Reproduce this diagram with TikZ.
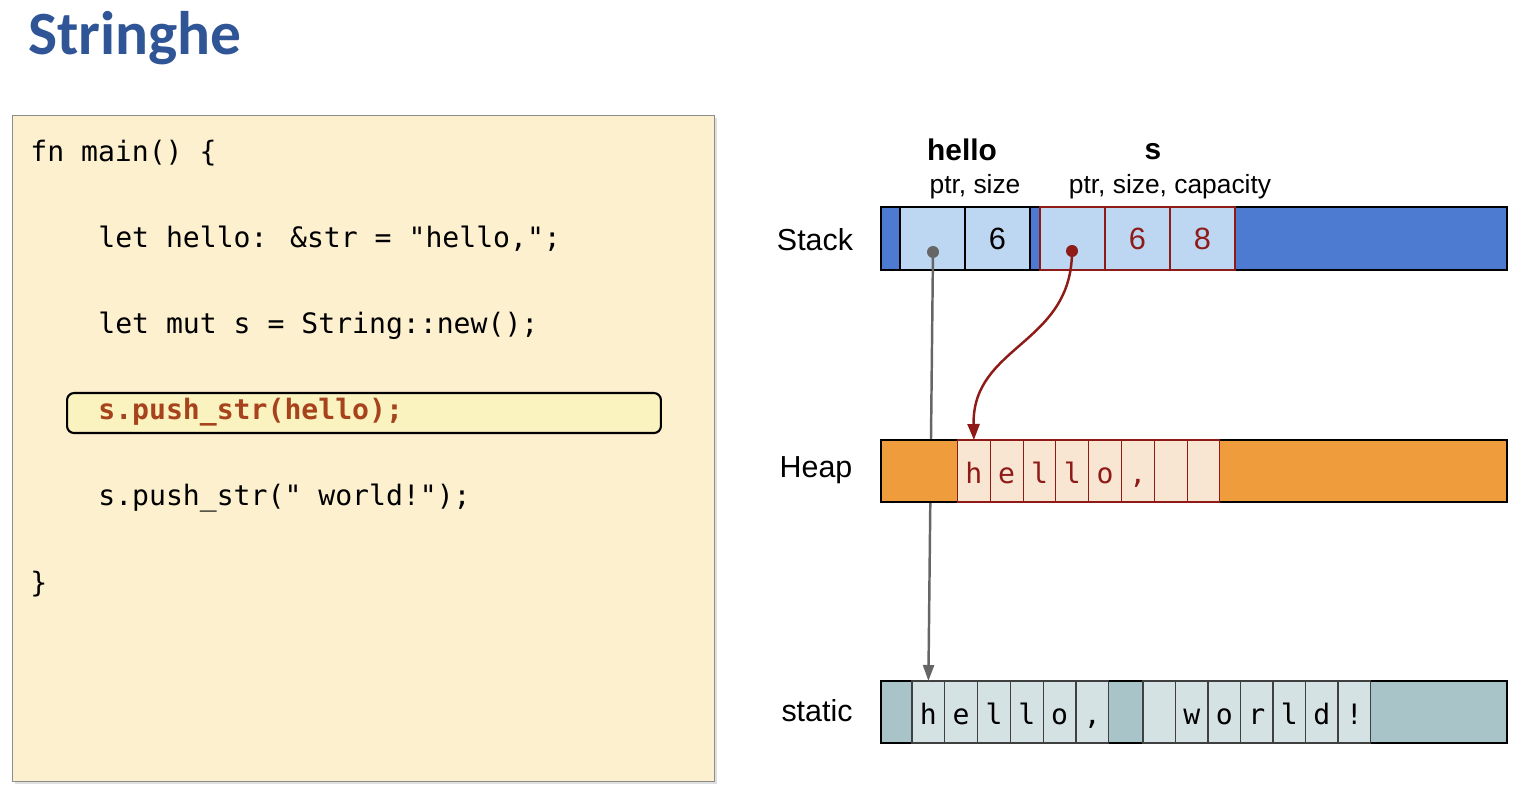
\documentclass[tikz,border=0pt]{standalone}
\usepackage{fontspec}
\setmainfont{Liberation Sans}
\newfontfamily\titlefont{Carlito}
\newfontfamily\codefont{DejaVu Sans Mono}
\usetikzlibrary{arrows.meta,shadows}
\definecolor{titleblue}{HTML}{2F5597}
\definecolor{codebg}{HTML}{FCF0CF}
\definecolor{hlfill}{HTML}{FAF3BF}
\definecolor{codered}{HTML}{A6431D}
\definecolor{stackblue}{HTML}{4C7BD1}
\definecolor{lightblue}{HTML}{BDD7F2}
\definecolor{darkred}{HTML}{8E1B17}
\definecolor{heaporange}{HTML}{EE9C3C}
\definecolor{heapcell}{HTML}{F8E5D2}
\definecolor{staticbar}{HTML}{A9C4C9}
\definecolor{staticcell}{HTML}{D4E2E4}
\definecolor{ptrgray}{HTML}{666666}
\tikzset{
  codeline/.style={anchor=base west, inner sep=0, font=\codefont\fontsize{16}{19}\selectfont},
  lbl/.style={inner sep=0, font=\fontsize{17.3}{20}\selectfont},
  sublbl/.style={inner sep=0, font=\fontsize{15}{18}\selectfont},
  boldlbl/.style={inner sep=0, font=\bfseries\fontsize{17}{20}\selectfont},
  bar/.style={draw=black, line width=1.1pt, inner sep=0, outer sep=0, minimum width=12.52cm},
  stackcell/.style={fill=lightblue, line width=1.1pt, inner sep=0, outer sep=0, minimum width=1.3cm, minimum height=1.26cm, font=\fontsize{17.5}{20}\selectfont},
  heapcellst/.style={fill=heapcell, draw=darkred, line width=0.6pt, inner sep=0, outer sep=0, minimum width=0.656cm, minimum height=1.24cm, text=darkred, text height=0.5cm, text depth=0cm, font=\codefont\fontsize{16}{19}\selectfont},
  staticcellst/.style={fill=staticcell, draw=black!75, line width=0.7pt, inner sep=0, outer sep=0, minimum width=0.656cm, minimum height=1.24cm, text height=0.5cm, text depth=0cm, font=\codefont\fontsize{16}{19}\selectfont},
  ptrdot/.style={circle, inner sep=0, minimum size=0.24cm},
  grayarrow/.style={draw=ptrgray, line width=1.4pt, -{Triangle[length=0.32cm,width=0.22cm]}},
  redarrow/.style={draw=darkred, line width=1.4pt, -{Triangle[length=0.32cm,width=0.24cm]}}
}
\begin{document}
\begin{tikzpicture}[x=0.02cm,y=-0.02cm]
\useasboundingbox (0,0) rectangle (1526,800);

% title
\node[anchor=base west, inner sep=0, text=titleblue, font=\titlefont\bfseries\fontsize{35}{40}\selectfont] (title) at (28,55) {Stringhe};

% code box
\node[draw=black!45, line width=0.8pt, fill=codebg, anchor=north west, inner sep=0, minimum width=14.04cm, minimum height=13.32cm,
      drop shadow={shadow xshift=1.5pt, shadow yshift=-1.5pt, opacity=0.25}] (codebox) at (12,115) {};
\node[draw=black, line width=1.2pt, fill=hlfill, rounded corners=4pt, anchor=north west, inner sep=0, minimum width=11.88cm, minimum height=0.8cm] (hlbox) at (66,392) {};

\node[codeline] (l1) at (30,162) {fn main() \{};
\node[codeline] (l2) at (98,248) {let hello: \&str = "hello,";};
\node[codeline] (l3) at (98,334) {let mut s = String::new();};
\node[codeline, text=codered, font=\codefont\bfseries\fontsize{16}{19}\selectfont] (l4) at (98,420) {s.push\_str(hello);};
\node[codeline] (l5) at (98,506) {s.push\_str(" world!");};
\node[codeline] (l6) at (30,593) {\}};

% row labels
\node[lbl] (stacklbl) at (815,240) {Stack};
\node[lbl] (heaplbl) at (816,470) {Heap};
\node[lbl] (staticlbl) at (817,711) {static};

% variable labels
\node[boldlbl] (hellolbl) at (962,150) {hello};
\node[sublbl] (hellosub) at (975,187) {ptr, size};
\node[boldlbl] (slbl) at (1153,152) {s};
\node[sublbl] (ssub) at (1170,187) {ptr, size, capacity};

% stack
\node[bar, fill=stackblue, minimum height=1.26cm] (stackbar) at (1194,238.5) {};
\node[stackcell, draw=black] (hptr) at (932.5,238.5) {};
\node[stackcell, draw=black] (hsize) at (997.5,238.5) {6};
\node[stackcell, draw=darkred] (sptr) at (1072.5,238.5) {};
\node[stackcell, draw=darkred, text=darkred] (ssize) at (1137.5,238.5) {6};
\node[stackcell, draw=darkred, text=darkred] (scap) at (1202.5,238.5) {8};
\node[ptrdot, fill=ptrgray] (hdot) at (933,252) {};
\node[ptrdot, fill=darkred] (sdot) at (1072,251) {};

% static
\node[bar, fill=staticbar, minimum height=1.24cm] (staticbar) at (1194,712) {};
\foreach \c [count=\i from 0] in {h,e,l,l,o,{,}} {
  \node[staticcellst] (st\i) at (928.4+32.8*\i,712) {\c};
}
\foreach \c [count=\i from 0] in {{},w,o,r,l,d,!} {
  \node[staticcellst] (sw\i) at (1159.4+32.5*\i,712) {\c};
}

% pointer of hello (drawn below the heap bar)
\draw[grayarrow] (hdot.center) -- (st0.north);

% heap
\node[bar, fill=heaporange, minimum height=1.24cm] (heapbar) at (1194,471) {};
\foreach \c [count=\i from 0] in {h,e,l,l,o,{,},{},{}} {
  \node[heapcellst] (hp\i) at (973.9+32.8*\i,471) {\c};
}

% pointer of s
\draw[redarrow] (sdot.center) .. controls (1072,345) and (972,345) .. (hp0.north);
\end{tikzpicture}
\end{document}
